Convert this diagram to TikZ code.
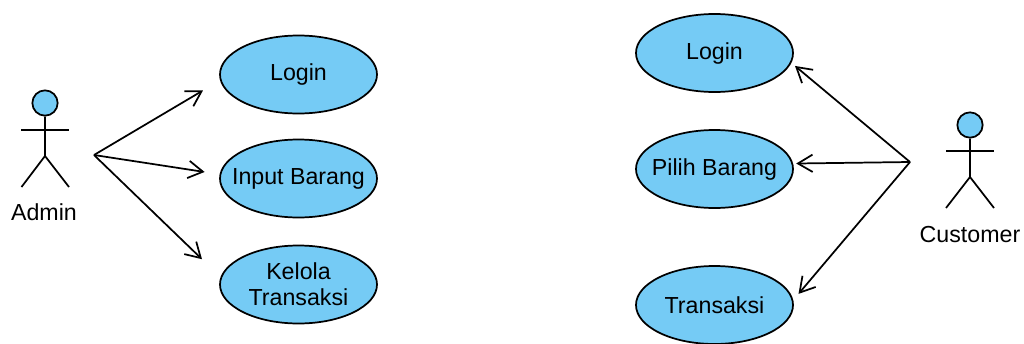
\documentclass[tikz,border=0pt]{standalone}
\usepackage{fontspec}
\setmainfont{Liberation Sans}
\usetikzlibrary{positioning, shapes.geometric, arrows.meta}
\definecolor{ucblue}{HTML}{75CBF5}

\begin{document}
\begin{tikzpicture}[x=0.75pt, y=-0.75pt, line width=1.3pt, font=\fontsize{17.4}{19.5}\selectfont,
  usecase/.style={ellipse, draw=black, fill=ucblue, minimum width=117.75pt, minimum height=58.5pt, inner xsep=-15pt, inner ysep=0pt, outer sep=0pt, align=center},
  head/.style={circle, draw=black, fill=ucblue, minimum size=19pt, inner sep=0pt},
  link/.style={-{Straight Barb[length=11pt, width=13pt]}}]
\useasboundingbox (0,0) rectangle (1024,343);

% admin side
\node (adminlogin) [usecase] at (298.5,74.5) {Login};
\node (admininput) [usecase, below=19.5pt of adminlogin] {Input Barang};
\node (adminkelola) [usecase, below=21pt of admininput] {Kelola\\Transaksi};
\node (adminhead) [head] at (45,103) {};
\node (adminlabel) at (44,212) {Admin};
\coordinate (adminout) at (94,155);

\draw (adminhead.south) -- (45,156) -- (21.5,187);
\draw (45,156) -- (69,187);
\draw (21,130) -- (69,130);
\draw[link, shorten >=15.5pt] (adminout) -- (adminlogin.184.5);
\draw[link, shorten >=12pt] (adminout) -- (admininput.177.4);
\draw[link, shorten >=20pt] (adminout) -- (adminkelola.175.6);

% customer side
\node (custlogin) [usecase] at (714.5,53) {Login};
\node (custpilih) [usecase, below=28.5pt of custlogin] {Pilih Barang};
\node (custtrans) [usecase, below=43.5pt of custpilih] {Transaksi};
\node (custhead) [head] at (970,125) {};
\node (custlabel) at (970,234.5) {Customer};
\coordinate (custout) at (910,162);

\draw (custhead.south) -- (970,177) -- (946,208);
\draw (970,177) -- (994,208);
\draw (946,151) -- (994,151);
\draw[link, shorten >=4.2pt] (custout) -- (custlogin.353.6);
\draw[link, shorten >=3pt] (custout) -- (custpilih.4);
\draw[link, shorten >=6.9pt] (custout) -- (custtrans.3.7);
\end{tikzpicture}
\end{document}
